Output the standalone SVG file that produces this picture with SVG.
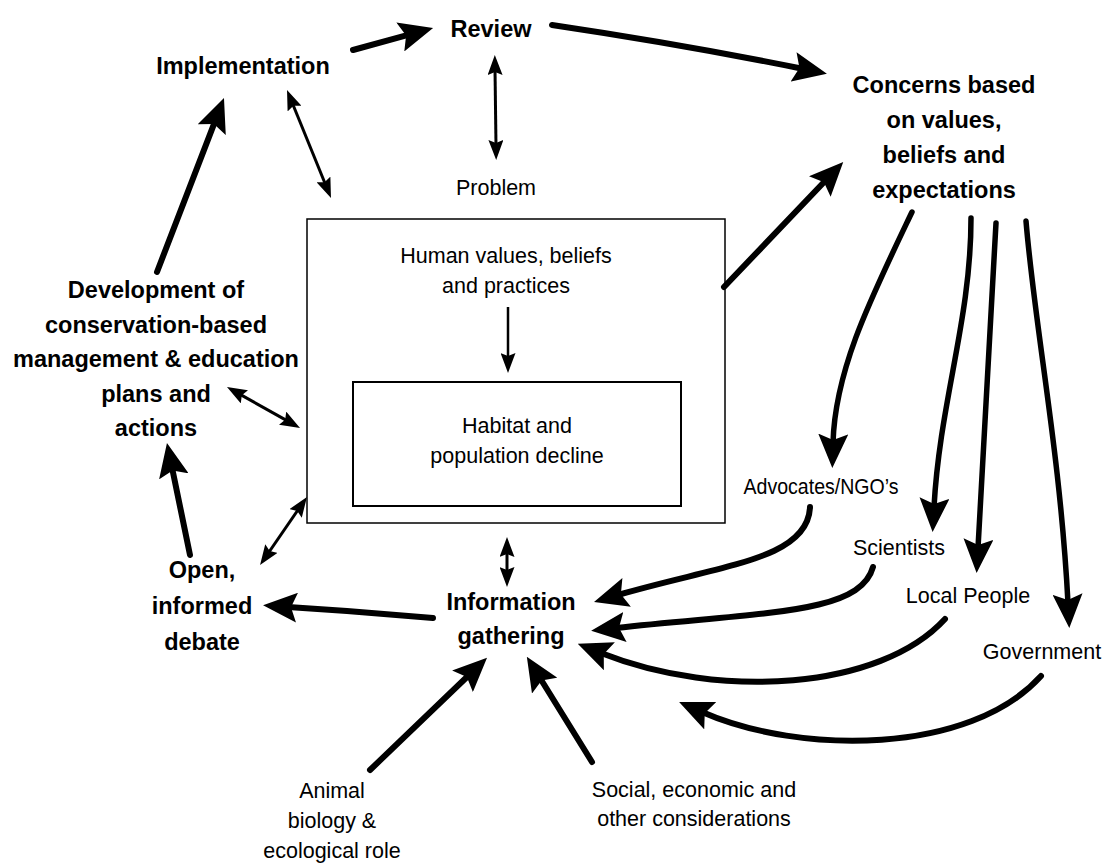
<svg xmlns="http://www.w3.org/2000/svg" width="1106" height="868" viewBox="0 0 1106 868">
<style>
.b{font-family:"Liberation Sans",Arial,sans-serif;font-weight:bold;font-size:23.5px;fill:#000;text-anchor:middle}
.r{font-family:"Liberation Sans",Arial,sans-serif;font-size:21.5px;fill:#000;text-anchor:middle}
.thick{fill:none;stroke:#000;stroke-width:6;stroke-linecap:round;marker-end:url(#big)}
.curve{fill:none;stroke:#000;stroke-width:6;stroke-linecap:round;marker-end:url(#big)}
.mid{fill:none;stroke:#000;stroke-width:5.5;stroke-linecap:round;marker-end:url(#big)}
.thin{fill:none;stroke:#000;stroke-width:3;marker-start:url(#sm);marker-end:url(#sm)}
.thin1{fill:none;stroke:#000;stroke-width:2.5;marker-end:url(#sm)}
.box{fill:none;stroke:#000}
</style>
<defs>
<marker id="big" markerUnits="userSpaceOnUse" markerWidth="34" markerHeight="30" refX="9" refY="15" orient="auto"><path d="M0,0 L34,15 L0,30 L6,15 z" fill="#000"/></marker>
<marker id="sm" markerUnits="userSpaceOnUse" markerWidth="20" markerHeight="15" refX="6" refY="7.5" orient="auto-start-reverse"><path d="M0,0 L20,7.5 L0,15 L3,7.5 z" fill="#000"/></marker>
</defs>
<rect width="1106" height="868" fill="#fff"/>

<g id="problem-box">
<rect class="box" x="307" y="219" width="418" height="304" stroke-width="1.5"/>
<text class="r" x="496" y="195">Problem</text>
<text class="r" x="506" y="263">Human values, beliefs</text>
<text class="r" x="506" y="293">and practices</text>
</g>
<g id="habitat">
<rect class="box" x="353" y="382" width="328" height="124" stroke-width="2"/>
<text class="r" x="517" y="433">Habitat and</text>
<text class="r" x="517" y="463">population decline</text>
</g>
<g id="review"><text class="b" x="491" y="37">Review</text></g>
<g id="implementation"><text class="b" x="243" y="74">Implementation</text></g>
<g id="concerns">
<text class="b" x="944" y="93">Concerns based</text>
<text class="b" x="944" y="128">on values,</text>
<text class="b" x="944" y="163">beliefs and</text>
<text class="b" x="944" y="198">expectations</text>
</g>
<g id="development">
<text class="b" x="156" y="298">Development of</text>
<text class="b" x="156" y="332.5">conservation-based</text>
<text class="b" x="156" y="367">management &amp; education</text>
<text class="b" x="156" y="401.5">plans and</text>
<text class="b" x="156" y="436">actions</text>
</g>
<g id="debate">
<text class="b" x="202" y="578">Open,</text>
<text class="b" x="202" y="614">informed</text>
<text class="b" x="202" y="650">debate</text>
</g>
<g id="information">
<text class="b" x="511" y="610">Information</text>
<text class="b" x="511" y="644">gathering</text>
</g>
<g id="advocates"><text class="r" x="821" y="494" textLength="155" lengthAdjust="spacingAndGlyphs">Advocates/NGO’s</text></g>
<g id="scientists"><text class="r" x="899" y="555">Scientists</text></g>
<g id="local"><text class="r" x="968" y="603">Local People</text></g>
<g id="government"><text class="r" x="1042" y="659">Government</text></g>
<g id="animal">
<text class="r" x="332" y="798">Animal</text>
<text class="r" x="332" y="828">biology &amp;</text>
<text class="r" x="332" y="858">ecological role</text>
</g>
<g id="social">
<text class="r" x="694" y="797">Social, economic and</text>
<text class="r" x="694" y="826">other considerations</text>
</g>

<g id="connectors">
<path class="thick" d="M353,50 L409,34.6"/>
<path class="thick" d="M552,25 Q680,44 802.4,68.7"/>
<path class="thick" d="M157,272 L215,121.3"/>
<path class="thick" d="M190,555 L172,467.5"/>
<path class="thick" d="M433,618 L347,611 L288,607"/>
<path class="thick" d="M724,287 L826,180"/>
<path class="thick" d="M370,770 L469,675"/>
<path class="thick" d="M592,762 L540,678"/>

<path class="mid" d="M912,212 C870,300 835,370 833,443"/>
<path class="mid" d="M971,218 C971,320 940,400 934,507"/>
<path class="mid" d="M996,223 L978,548"/>
<path class="mid" d="M1026,221 C1035,330 1060,450 1068,603"/>

<path class="curve" d="M810,507 C808,560 720,565 618,595"/>
<path class="curve" d="M873,567 C860,615 760,612 616,628"/>
<path class="curve" d="M945,619 C880,690 720,700 601,653"/>
<path class="curve" d="M1041,676 C970,755 800,755 702,712"/>

<path class="thin" d="M495,69 L496,146"/>
<path class="thin" d="M292.3,103 L325.7,185"/>
<path class="thin" d="M239.2,393.9 L287.8,421.1"/>
<path class="thin" d="M268,553.5 L299,508.5"/>
<path class="thin" d="M507,551 L507,573"/>
<path class="thin1" d="M508,307 L508,359"/>
</g>
</svg>
